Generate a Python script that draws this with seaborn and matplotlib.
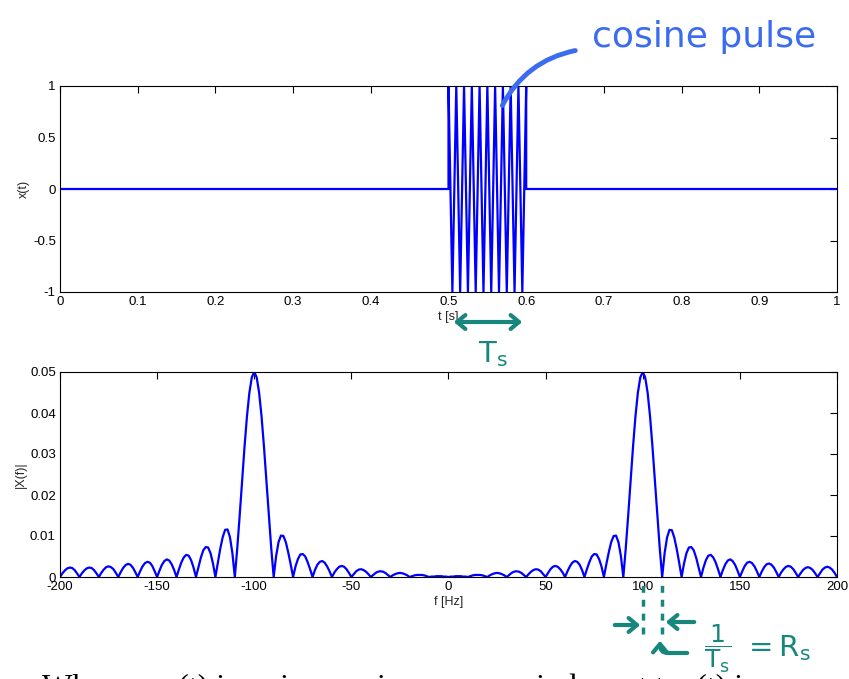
import matplotlib
matplotlib.use("Agg")
import matplotlib.pyplot as plt
from matplotlib.patches import FancyArrowPatch
import seaborn as sns
import pandas as pd
import numpy as np

# time signal: cosine pulse, 100 Hz between 0.5 s and 0.6 s (peaks / troughs)
t_sec = [0.0, 0.5, 0.5, 0.505, 0.51, 0.515, 0.52, 0.525, 0.53, 0.535, 0.54,
         0.545, 0.55, 0.555, 0.56, 0.565, 0.57, 0.575, 0.58, 0.585, 0.59,
         0.595, 0.6, 0.6, 1.0]
x_t = [0, 0, 1, -1, 1, -1, 1, -1, 1, -1, 1,
       -1, 1, -1, 1, -1, 1, -1, 1, -1, 1,
       -1, 1, 0, 0]

# magnitude spectrum, read every 1.25 Hz from -200 to 200 (one row = 10 Hz)
freq_hz = np.arange(-200, 200.01, 1.25)
mag = [
    0, 0.0009, 0.0016, 0.0021, 0.0023, 0.0022, 0.0017, 0.0009,   # -200
    0, 0.0009, 0.0016, 0.0021, 0.0023, 0.0022, 0.0017, 0.0009,   # -190
    0, 0.0010, 0.0018, 0.0024, 0.0026, 0.0024, 0.0019, 0.0010,   # -180
    0, 0.0012, 0.0022, 0.0029, 0.0032, 0.0030, 0.0023, 0.0012,   # -170
    0, 0.0014, 0.0026, 0.0034, 0.0037, 0.0035, 0.0027, 0.0014,   # -160
    0, 0.0016, 0.0030, 0.0039, 0.0043, 0.0040, 0.0031, 0.0017,   # -150
    0, 0.0019, 0.0036, 0.0048, 0.0054, 0.0052, 0.0041, 0.0023,   # -140
    0, 0.0024, 0.0047, 0.0065, 0.0073, 0.0072, 0.0058, 0.0033,   # -130
    0, 0.0035, 0.0069, 0.0097, 0.0115, 0.0116, 0.0097, 0.0058,   # -120
    0, 0.0070, 0.0150, 0.0235, 0.0318, 0.0392, 0.0450, 0.0487,   # -110
    0.0500, 0.0487, 0.0450, 0.0392, 0.0318, 0.0235, 0.0150, 0.0070,  # -100
    0, 0.0051, 0.0085, 0.0101, 0.0100, 0.0085, 0.0060, 0.0031,   # -90
    0, 0.0026, 0.0044, 0.0055, 0.0056, 0.0050, 0.0036, 0.0019,   # -80
    0, 0.0017, 0.0030, 0.0037, 0.0039, 0.0035, 0.0026, 0.0014,   # -70
    0, 0.0011, 0.0019, 0.0025, 0.0027, 0.0025, 0.0019, 0.0010,   # -60
    0, 0.0007, 0.0014, 0.0018, 0.0019, 0.0017, 0.0013, 0.0007,   # -50
    0, 0.0005, 0.0010, 0.0013, 0.0014, 0.0013, 0.0010, 0.0005,   # -40
    0, 0.0004, 0.0007, 0.0009, 0.0010, 0.0009, 0.0007, 0.0004,   # -30
    0, 0.0002, 0.0004, 0.0005, 0.0005, 0.0005, 0.0004, 0.0002,   # -20
    0, 0.0001, 0.0001, 0.0002, 0.0002, 0.0002, 0.0001, 0.0001,   # -10
    0, 0.0001, 0.0001, 0.0002, 0.0002, 0.0002, 0.0001, 0.0001,   # 0
    0, 0.0002, 0.0004, 0.0005, 0.0005, 0.0005, 0.0004, 0.0002,   # 10
    0, 0.0004, 0.0007, 0.0009, 0.0010, 0.0009, 0.0007, 0.0004,   # 20
    0, 0.0005, 0.0010, 0.0013, 0.0014, 0.0013, 0.0010, 0.0005,   # 30
    0, 0.0007, 0.0013, 0.0017, 0.0019, 0.0018, 0.0014, 0.0007,   # 40
    0, 0.0010, 0.0019, 0.0025, 0.0027, 0.0025, 0.0019, 0.0011,   # 50
    0, 0.0014, 0.0026, 0.0035, 0.0039, 0.0037, 0.0030, 0.0017,   # 60
    0, 0.0019, 0.0036, 0.0050, 0.0056, 0.0055, 0.0044, 0.0026,   # 70
    0, 0.0031, 0.0060, 0.0085, 0.0100, 0.0101, 0.0085, 0.0051,   # 80
    0, 0.0070, 0.0150, 0.0235, 0.0318, 0.0392, 0.0450, 0.0487,   # 90
    0.0500, 0.0487, 0.0450, 0.0392, 0.0318, 0.0235, 0.0150, 0.0070,  # 100
    0, 0.0058, 0.0096, 0.0115, 0.0114, 0.0096, 0.0068, 0.0035,   # 110
    0, 0.0033, 0.0058, 0.0072, 0.0073, 0.0065, 0.0047, 0.0024,   # 120
    0, 0.0023, 0.0041, 0.0052, 0.0054, 0.0048, 0.0036, 0.0019,   # 130
    0, 0.0017, 0.0031, 0.0040, 0.0043, 0.0039, 0.0030, 0.0016,   # 140
    0, 0.0014, 0.0027, 0.0035, 0.0037, 0.0034, 0.0026, 0.0014,   # 150
    0, 0.0013, 0.0024, 0.0031, 0.0033, 0.0030, 0.0023, 0.0012,   # 160
    0, 0.0011, 0.0019, 0.0025, 0.0027, 0.0025, 0.0019, 0.0010,   # 170
    0, 0.0009, 0.0017, 0.0022, 0.0024, 0.0022, 0.0017, 0.0009,   # 180
    0, 0.0009, 0.0018, 0.0023, 0.0025, 0.0023, 0.0018, 0.0010,   # 190
    0,                                                           # 200
]

t_ticks = [0, 0.1, 0.2, 0.3, 0.4, 0.5, 0.6, 0.7, 0.8, 0.9, 1]
t_labels = ["0", "0.1", "0.2", "0.3", "0.4", "0.5", "0.6", "0.7", "0.8", "0.9", "1"]
x_ticks = [-1, -0.5, 0, 0.5, 1]
x_labels = ["-1", "-0.5", "0", "0.5", "1"]
f_ticks = [-200, -150, -100, -50, 0, 50, 100, 150, 200]
f_labels = ["-200", "-150", "-100", "-50", "0", "50", "100", "150", "200"]
m_ticks = [0, 0.01, 0.02, 0.03, 0.04, 0.05]
m_labels = ["0", "0.01", "0.02", "0.03", "0.04", "0.05"]

sns.set_theme(style="white")
plt.rcParams["font.family"] = ["Liberation Sans", "DejaVu Sans"]
plt.rcParams["mathtext.fontset"] = "dejavusans"

pen_blue = "#3b6cf0"
pen_teal = "#17877d"

fig = plt.figure(figsize=(8.49, 6.79), dpi=100)
ax1 = fig.add_axes([60 / 849, 1 - 292 / 679, 777 / 849, 206 / 679])
ax2 = fig.add_axes([60 / 849, 1 - 577 / 679, 777 / 849, 205 / 679])

df_t = pd.DataFrame({"t": t_sec, "x": x_t})
sns.lineplot(data=df_t, x="t", y="x", ax=ax1, color="#0000ff", linewidth=1.6,
             estimator=None, sort=False)
ax1.set_xlim(0, 1)
ax1.set_ylim(-1, 1)
ax1.set_xticks(t_ticks, t_labels)
ax1.set_yticks(x_ticks, x_labels)
ax1.set_xlabel("t [s]", fontsize=9, labelpad=2)
ax1.set_ylabel("x(t)", fontsize=9, labelpad=2)

df_f = pd.DataFrame({"f": freq_hz, "mag": mag})
sns.lineplot(data=df_f, x="f", y="mag", ax=ax2, color="#0000ff", linewidth=1.6,
             estimator=None, sort=False)
ax2.set_xlim(-200, 200)
ax2.set_ylim(0, 0.05)
ax2.set_xticks(f_ticks, f_labels)
ax2.set_yticks(m_ticks, m_labels)
ax2.set_xlabel("f [Hz]", fontsize=9, labelpad=2)
ax2.set_ylabel("|X(f)|", fontsize=9, labelpad=2)

for ax in (ax1, ax2):
    ax.tick_params(direction="in", length=5, width=0.8, labelsize=9.5, pad=3,
                   top=True, right=True, colors="black")
    for s in ax.spines.values():
        s.set_color("black")
        s.set_linewidth(0.8)
    ax.grid(False)

# handwritten notes
fig.text(592 / 849, 1 - 47 / 679, "cosine pulse", color=pen_blue, fontsize=26,
         family="DejaVu Sans")
fig.add_artist(FancyArrowPatch(
    (578, 679 - 50), (501, 679 - 108), transform=None,
    connectionstyle="arc3,rad=0.25", arrowstyle="-", color=pen_blue, lw=3.5))

fig.add_artist(FancyArrowPatch(
    (451, 679 - 322), (525, 679 - 322), transform=None,
    arrowstyle="<->,head_length=6,head_width=5", color=pen_teal, lw=3))
fig.text(478 / 849, 1 - 362 / 679, r"$\mathrm{T_s}$", color=pen_teal,
         fontsize=21)

# 1/Ts spacing between main lobe peak and first zero
for fx in (100, 110):
    ax2.axvline(fx, ymin=-0.28, ymax=-0.02, color=pen_teal, lw=2.5,
                linestyle=(0, (2, 2)), clip_on=False)
fig.add_artist(FancyArrowPatch(
    (612, 679 - 625), (643, 679 - 625), transform=None,
    arrowstyle="->,head_length=6,head_width=5", color=pen_teal, lw=3))
fig.add_artist(FancyArrowPatch(
    (697, 679 - 622), (663, 679 - 622), transform=None,
    arrowstyle="->,head_length=6,head_width=5", color=pen_teal, lw=3))
fig.add_artist(FancyArrowPatch(
    (690, 679 - 653), (660, 679 - 638), transform=None,
    connectionstyle="angle,angleA=180,angleB=90,rad=8",
    arrowstyle="->,head_length=6,head_width=5", color=pen_teal, lw=3))
fig.text(704 / 849, 1 - 649 / 679,
         r"$\dfrac{\mathrm{1}}{\mathrm{T_s}}$",
         color=pen_teal, fontsize=18, va="center")
fig.text(743 / 849, 1 - 648 / 679, r"$\mathrm{= R_s}$",
         color=pen_teal, fontsize=21, va="center")

# start of the slide text below the chart, cut off by the frame
fig.text(42 / 849, -17 / 679,
         "Whereas x(t) is a sine carrier on one window at t, x(t) is",
         fontsize=23, family=["Liberation Serif", "DejaVu Serif"], color="black",
         va="baseline")

fig.savefig("out.png", dpi=100)
